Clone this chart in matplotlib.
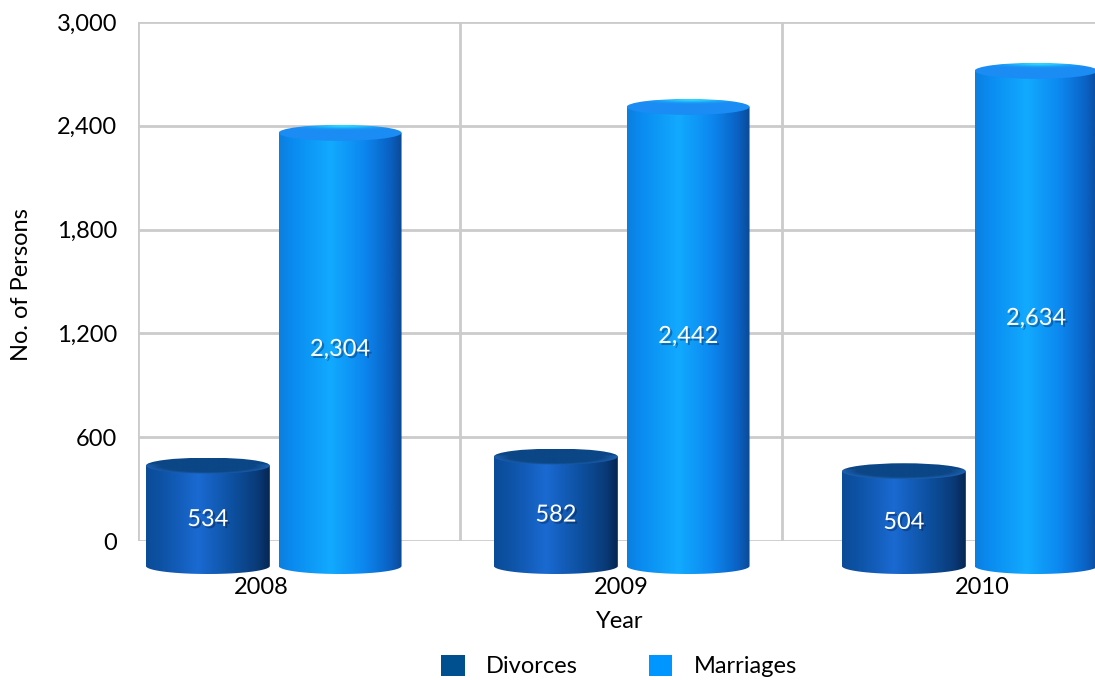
import numpy as np
import matplotlib
matplotlib.use('Agg')
import matplotlib.pyplot as plt
from matplotlib.colors import LinearSegmentedColormap, to_rgb
from matplotlib.patches import Ellipse, PathPatch, Patch
from matplotlib.path import Path
import matplotlib.patheffects as pe

# ---- data ----
years = ['2008', '2009', '2010']
divorces = [534, 582, 504]
marriages = [2304, 2442, 2634]
series_names = ['Divorces', 'Marriages']
y_ticks = [0, 600, 1200, 1800, 2400, 3000]

plt.rcParams['font.family'] = ['Lato', 'DejaVu Sans']

W, H = 1095, 680
fig = plt.figure(figsize=(W / 100, H / 100), dpi=100)

# ---- back wall (value axis + gridlines) ----
L, R, B, T = 138, 1104, 541, 22
axb = fig.add_axes([L / W, 1 - B / H, (R - L) / W, (B - T) / H])
axb.set_xlim(0, 3)
axb.set_ylim(0, 3000)
axb.set_yticks(y_ticks)
axb.set_yticklabels([f'{v:,}' for v in y_ticks], fontsize=17)
axb.set_xticks([0, 1, 2, 3])
axb.set_xticklabels([])
axb.tick_params(length=0, pad=15)
axb.grid(True, color='#cbcbcb', lw=2)
axb.set_axisbelow(True)
for s in axb.spines.values():
    s.set_visible(False)

fig.text(22 / W, 1 - 285 / H, 'No. of Persons', rotation=90, ha='center', va='center', fontsize=17)
fig.text(620 / W, 1 - 622 / H, 'Year', ha='center', va='center', fontsize=17)

# ---- front plane (cylinders) ----
cx0, dxp = 274, 348      # pixel position of first category, pixels per category
ppu, base = 0.188, 566   # pixels per unit, baseline pixel
axf = fig.add_axes([0, 0, 1, 1])
xlim = (-cx0 / dxp, (W - cx0) / dxp)
ylim = ((base - H) / ppu, base / ppu)
axf.patch.set_alpha(0)
axf.axis('off')

div_cmap = LinearSegmentedColormap.from_list('d', [
    (0.0, '#0b4c98'), (0.12, '#0d52a4'), (0.42, '#1a6ad2'), (0.7, '#0d50a0'),
    (0.9, '#0a3b78'), (1.0, '#062650')])
mar_cmap = LinearSegmentedColormap.from_list('m', [
    (0.0, '#0b7fe0'), (0.12, '#0a8cf0'), (0.42, '#12aaff'), (0.7, '#0c86ee'),
    (0.9, '#0a62c4'), (1.0, '#0a4a96')])

cap_cols = {
    'd': ('#0b4686', '#2a70c8'),
    'm': ('#1a8cf4', '#2ad8ff'),
}


def cylinder(ax, xc, w, v, b, cmap, capkey):
    x0, x1 = xc - w / 2, xc + w / 2
    t = np.linspace(np.pi, 2 * np.pi, 80)
    bottom = np.column_stack([xc + w / 2 * np.cos(t), b * np.sin(t)])
    verts = [(x0, v)] + bottom.tolist() + [(x1, v), (x0, v)]
    codes = [Path.MOVETO] + [Path.LINETO] * (len(verts) - 2) + [Path.CLOSEPOLY]
    body = PathPatch(Path(verts, codes), fc='none', ec='none', transform=ax.transData)
    ax.add_patch(body)
    grad = np.linspace(0, 1, 256)[None, :]
    im = ax.imshow(grad, cmap=cmap, extent=[x0, x1, -b, v], aspect='auto',
                   origin='lower', interpolation='bilinear', zorder=2)
    im.set_clip_path(body)
    # cap
    cap = Ellipse((xc, v), w, 2 * b, fc='none', ec='none', transform=ax.transData)
    ax.add_patch(cap)
    u = np.linspace(-1, 1, 200)[None, :]
    s = np.linspace(-1, 1, 60)[:, None]
    c0 = np.array(to_rgb(cap_cols[capkey][0]))
    c1 = np.array(to_rgb(cap_cols[capkey][1]))
    if capkey == 'm':
        f = np.exp(-((u - 0.05) ** 2 / 0.25 + (s - 0.9) ** 2 / 0.08))
    else:
        r = np.sqrt(u ** 2 + s ** 2)
        f = np.clip((r - 0.75) / 0.25, 0, 1) * 0.6 * (s < 0.2)
    rgb = c0[None, None, :] * (1 - f[..., None]) + c1[None, None, :] * f[..., None]
    im2 = ax.imshow(rgb, extent=[x0, x1, v - b, v + b], aspect='auto',
                    origin='lower', interpolation='bilinear', zorder=3)
    im2.set_clip_path(cap)


b = 8 / ppu
shadow = [pe.SimplePatchShadow(offset=(1.5, -1.5), shadow_rgbFace='#001030', alpha=0.35), pe.Normal()]
for i in range(len(years)):
    for vals, off, w, cmap, key in ((divorces, -0.19, 0.356, div_cmap, 'd'),
                                    (marriages, 0.19, 0.353, mar_cmap, 'm')):
        v = vals[i]
        xc = i + off
        cylinder(axf, xc, w, v, b, cmap, key)
        axf.text(xc, v / 2 - (20 if v < 1000 else 0), f'{v:,}', color='white', fontsize=17,
                 ha='center', va='center', zorder=5, path_effects=shadow)
    # year labels sit slightly spread in perspective
    axf.text((261 + 360.5 * i - cx0) / dxp, (base - 588) / ppu, years[i],
             ha='center', va='center', fontsize=17)

axf.set_xlim(*xlim)
axf.set_ylim(*ylim)

handles = [Patch(fc='#00508f', ec='none'), Patch(fc='#0096ff', ec='none')]
fig.legend(handles, series_names, loc='center', bbox_to_anchor=(619 / W, 1 - 666 / H),
           ncol=2, frameon=False, fontsize=17, handlelength=1.0, handleheight=1.0,
           handletextpad=0.9, columnspacing=3.0)

fig.savefig('out.png', dpi=100)
